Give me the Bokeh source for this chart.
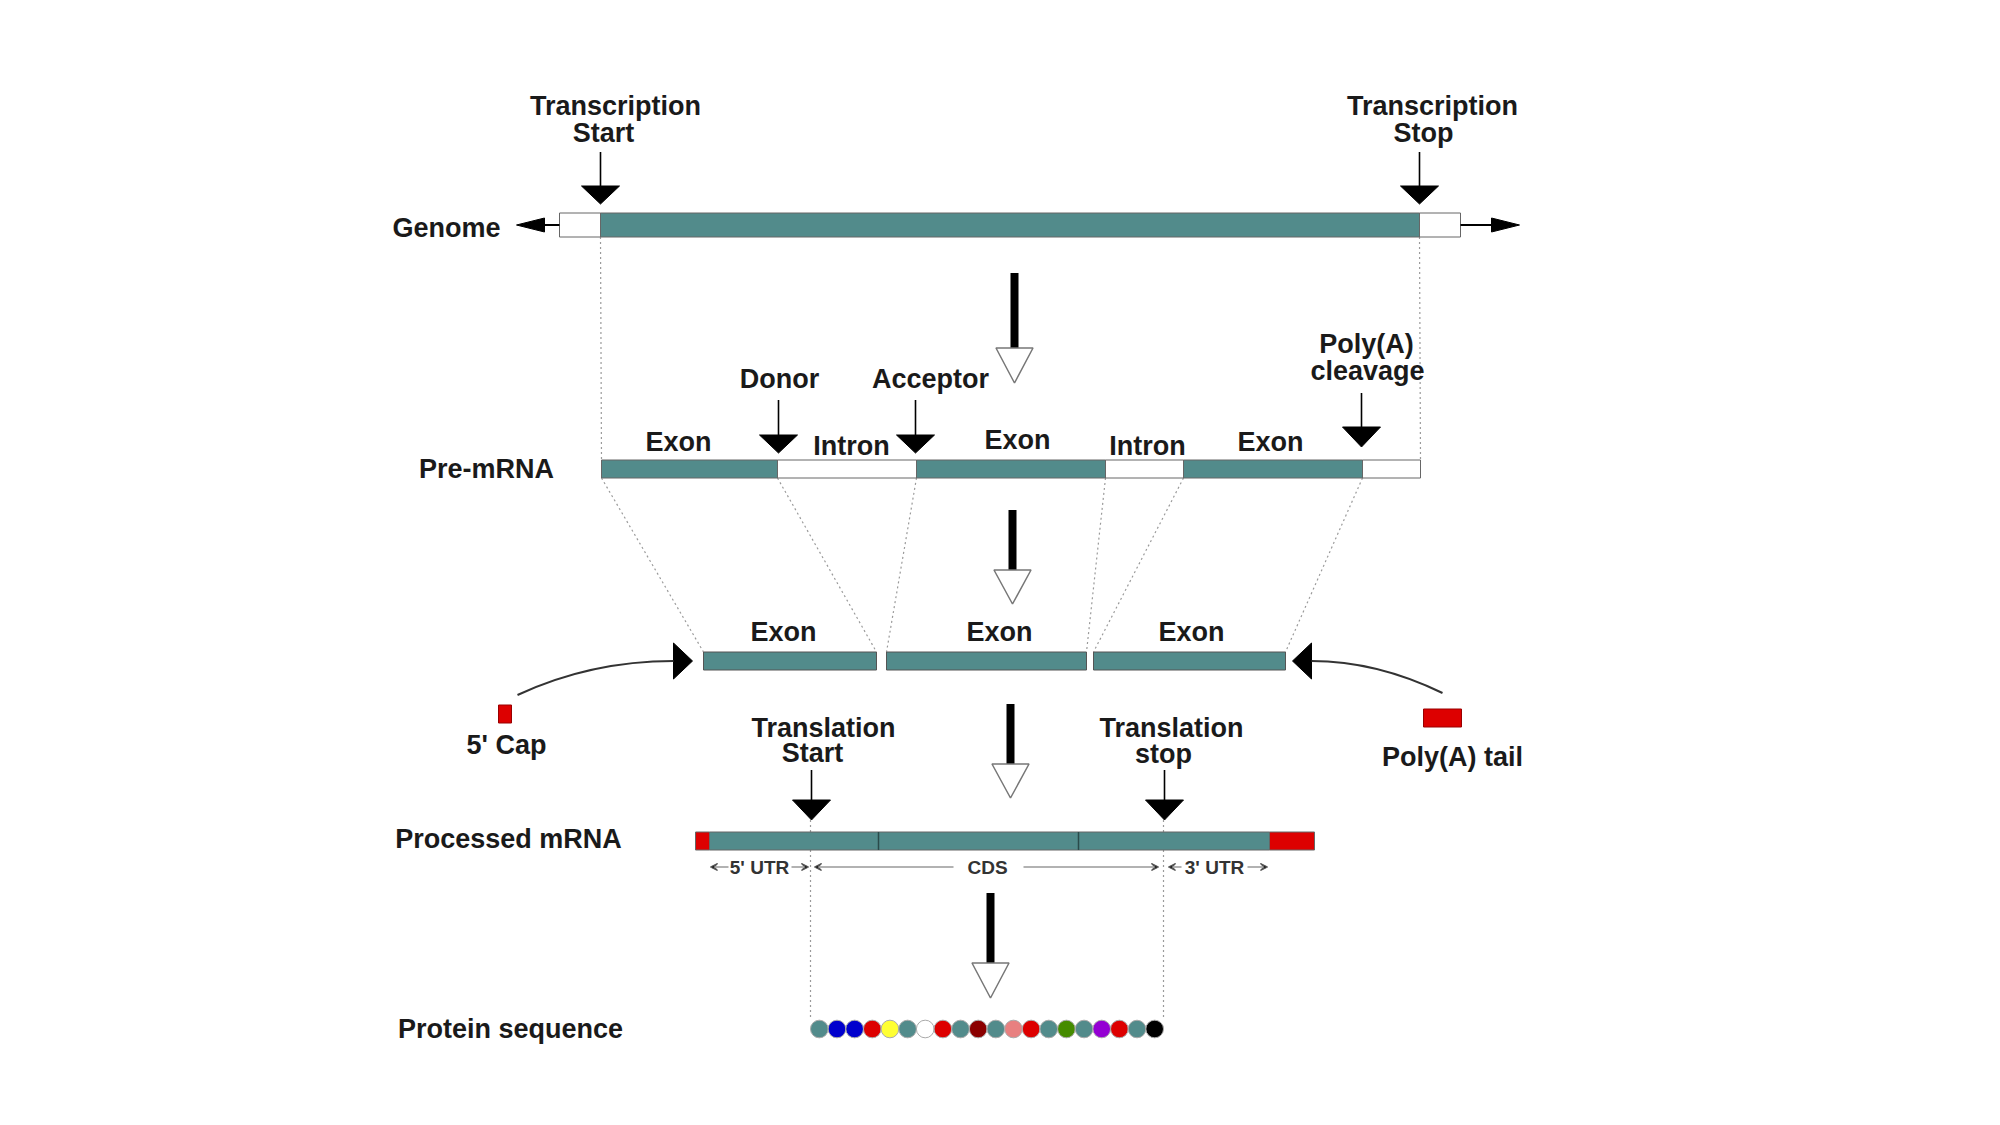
from bokeh.plotting import figure
from bokeh.models import Range1d, Arrow, VeeHead, ColumnDataSource
from bokeh.embed import file_html
from bokeh.resources import INLINE
from bokeh.core.properties import value

TEAL = "#528B8B"
RED = "#DD0000"
FONT = value("Liberation Sans")

# ---------------- data (diagram coordinates) ----------------
# Genome row
genome_x0 = [567, 608, 1427]
genome_x1 = [608, 1427, 1468]
genome_fill = ["white", TEAL, "white"]
genome_y0, genome_y1 = 213, 237

# Pre-mRNA row
pre_x0 = [609, 785, 924, 1113, 1191, 1370]
pre_x1 = [785, 924, 1113, 1191, 1370, 1428]
pre_fill = [TEAL, "white", TEAL, "white", TEAL, "white"]
pre_y0, pre_y1 = 460, 478

# Spliced exons row
exon_x0 = [711, 894, 1101]
exon_x1 = [884, 1094, 1293]
exon_y0, exon_y1 = 652, 670

# Processed mRNA row
proc_x0 = [703, 717, 1277]
proc_x1 = [717, 1277, 1322]
proc_fill = [RED, TEAL, RED]
proc_y0, proc_y1 = 832, 850
proc_div = [886, 1086]

# Cap and tail
cap_box = [506, 519, 705, 723]
tail_box = [1431, 1469, 709, 727]

# Protein sequence
protein_colors = ["#528B8B", "#0000CD", "#0000CD", "#DD0000", "#FFFF33", "#528B8B",
                  "#FFFFFF", "#DD0000", "#528B8B", "#8B0000", "#528B8B", "#E88080",
                  "#DD0000", "#528B8B", "#458B00", "#528B8B", "#9400D3", "#DD0000",
                  "#528B8B", "#000000"]
protein_x_start, protein_x_end, protein_y = 818, 1171, 1029

# Small black pointer arrows (x, shaft top, head base, tip)
ptr_x = [608, 1427, 786, 923, 1369, 819, 1172]
ptr_top = [152, 152, 400, 400, 393, 770, 770]
ptr_base = [186, 186, 435, 435, 427, 800, 800]
ptr_tip = [204, 204, 453, 453, 447, 820, 820]

# Big process arrows (x, shaft top, head base, tip)
big_x = [1022, 1020, 1018, 998]
big_top = [273, 510, 704, 893]
big_base = [348, 570, 764, 963]
big_tip = [383, 604, 798, 998]

# Dotted guide lines
dot_x0 = [608, 1427, 609, 785, 924, 1113, 1191, 1370, 818, 1171]
dot_y0 = [237, 237, 478, 478, 478, 478, 478, 478, 820, 820]
dot_x1 = [609, 1428, 711, 884, 894, 1094, 1101, 1293, 818, 1171]
dot_y1 = [460, 460, 652, 652, 652, 652, 652, 652, 1020, 1020]

# Labels
big_labels = ["Transcription", "Start", "Transcription", "Stop", "Genome",
              "Donor", "Acceptor", "Poly(A)", "cleavage",
              "Exon", "Intron", "Exon", "Intron", "Exon", "Pre-mRNA",
              "Exon", "Exon", "Exon", "5' Cap", "Poly(A) tail",
              "Translation", "Start", "Translation", "stop",
              "Processed mRNA", "Protein sequence"]
big_lx = [623, 611, 1440, 1431, 454,
          787, 938, 1374, 1375,
          686, 859, 1025, 1155, 1278, 494,
          791, 1007, 1199, 514, 1460,
          831, 820, 1179, 1171,
          516, 518]
big_ly = [106, 133, 106, 133, 228,
          379, 379, 344, 371,
          442, 446, 440, 446, 442, 469,
          632, 632, 632, 745, 757,
          728, 753, 728, 754,
          839, 1029]

utr_labels = ["5' UTR", "CDS", "3' UTR"]
utr_lx = [767, 995, 1222]
utr_y = 867
utr_ax0 = [736, 799, 961, 1031, 1189, 1255]
utr_ax1 = [718, 816, 822, 1166, 1176, 1275]

# ---------------- figure ----------------
p = figure(width=1984, height=1109, output_backend="svg", toolbar_location=None,
           x_range=Range1d(8, 1992), y_range=Range1d(1109.5, 0.5), min_border=0)
p.axis.visible = False
p.grid.visible = False
p.outline_line_color = None
p.background_fill_color = "white"

# dotted guides
p.segment(x0=dot_x0, y0=dot_y0, x1=dot_x1, y1=dot_y1, line_color="#9a9a9a",
          line_width=1.2, line_dash="2 3")

# genome
p.quad(left=genome_x0, right=genome_x1, top=[genome_y0] * 3, bottom=[genome_y1] * 3,
       fill_color=genome_fill, line_color="#666666", line_width=1)
gy = (genome_y0 + genome_y1) / 2
p.segment(x0=[567, 1468], y0=[gy, gy], x1=[549, 1502], y1=[gy, gy],
          line_color="black", line_width=2)
p.patches(xs=[[552, 552, 524], [1499, 1499, 1527]],
          ys=[[gy - 7, gy + 7, gy], [gy - 7, gy + 7, gy]],
          fill_color="black", line_color="black")

# pre-mRNA
p.quad(left=pre_x0, right=pre_x1, top=[pre_y0] * 6, bottom=[pre_y1] * 6,
       fill_color=pre_fill, line_color="#666666", line_width=1)

# exons
p.quad(left=exon_x0, right=exon_x1, top=[exon_y0] * 3, bottom=[exon_y1] * 3,
       fill_color=TEAL, line_color="#555555", line_width=1)
ey = (exon_y0 + exon_y1) / 2
p.patches(xs=[[681, 681, 700], [1319, 1319, 1300]],
          ys=[[ey - 18, ey + 18, ey], [ey - 18, ey + 18, ey]],
          fill_color="black", line_color="black")
p.quadratic(x0=[525, 1450], y0=[695, 693], x1=[681, 1319], y1=[ey, ey],
            cx=[598, 1384], cy=[ey, ey], line_color="#333333", line_width=2)

# cap and tail
p.quad(left=[cap_box[0], tail_box[0]], right=[cap_box[1], tail_box[1]],
       top=[cap_box[2], tail_box[2]], bottom=[cap_box[3], tail_box[3]],
       fill_color=RED, line_color="#990000", line_width=1)

# processed mRNA
p.quad(left=proc_x0, right=proc_x1, top=[proc_y0] * 3, bottom=[proc_y1] * 3,
       fill_color=proc_fill, line_color="#666666", line_width=1)
p.segment(x0=proc_div, y0=[proc_y0] * 2, x1=proc_div, y1=[proc_y1] * 2,
          line_color="#2a4a4a", line_width=1.5)

# protein
n = len(protein_colors)
step = (protein_x_end - protein_x_start) / n
px = [protein_x_start + step * (i + 0.5) for i in range(n)]
p.circle(x=px, y=[protein_y] * n, radius=step / 2, fill_color=protein_colors,
         line_color="#aaaaaa", line_width=1)

# pointer arrows
p.segment(x0=ptr_x, y0=ptr_top, x1=ptr_x, y1=ptr_base, line_color="black", line_width=1.6)
p.patches(xs=[[x - 19, x + 19, x] for x in ptr_x],
          ys=[[b, b, t] for b, t in zip(ptr_base, ptr_tip)],
          fill_color="black", line_color="black")

# big arrows
p.segment(x0=big_x, y0=big_top, x1=big_x, y1=big_base, line_color="black",
          line_width=8, line_cap="butt")
p.patches(xs=[[x - 18.5, x + 18.5, x] for x in big_x],
          ys=[[b, b, t] for b, t in zip(big_base, big_tip)],
          fill_color="white", line_color="#777777", line_width=1.5)

# UTR arrows
src = ColumnDataSource(dict(x0=utr_ax0, x1=utr_ax1, y0=[utr_y] * 6, y1=[utr_y] * 6))
p.add_layout(Arrow(end=VeeHead(size=7, line_color="#555555", line_width=1.2),
                   x_start="x0", y_start="y0", x_end="x1", y_end="y1", source=src,
                   line_color="#999999", line_width=1.5))

# text
p.text(x=big_lx, y=big_ly, text=big_labels, text_font=FONT, text_font_style="bold",
       text_font_size="27px", text_align="center", text_baseline="middle",
       text_color="#1a1a1a")
p.text(x=utr_lx, y=[utr_y] * 3, text=utr_labels, text_font=FONT, text_font_style="bold",
       text_font_size="19px", text_align="center", text_baseline="middle",
       text_color="#333333")

open("out.html", "w").write(file_html(p, INLINE))
